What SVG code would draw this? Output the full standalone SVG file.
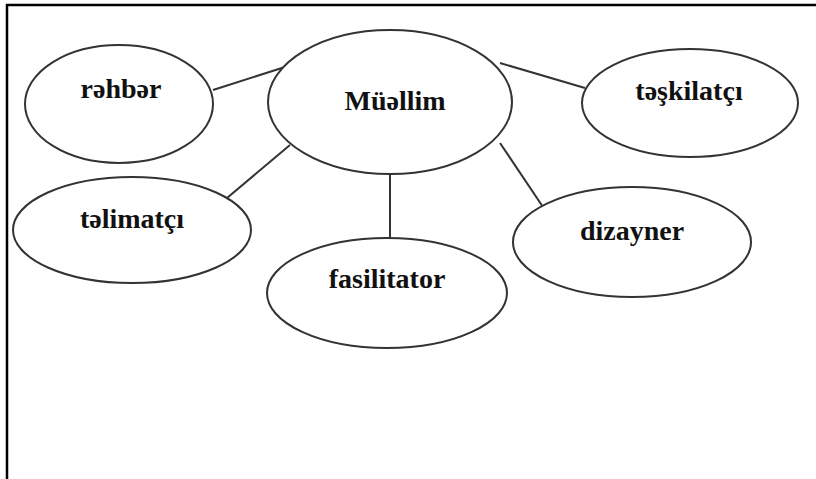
<svg xmlns="http://www.w3.org/2000/svg" width="816" height="479" viewBox="0 0 816 479">
<style>
.node ellipse{fill:#fff;stroke:#333;stroke-width:2}
.node text{font-family:"Liberation Serif","Times New Roman",serif;font-weight:bold;font-size:28px;fill:#111;text-anchor:middle}
.conn line{stroke:#333;stroke-width:2}
.frame{stroke:#000;stroke-width:2.5;fill:none}
</style>
<rect width="816" height="479" fill="#fff"/>
<path class="frame" d="M7 479 V5 H816"/>
<g class="conn">
<line x1="213" y1="90" x2="285" y2="67"/>
<line x1="500" y1="63" x2="585" y2="88"/>
<line x1="227" y1="198" x2="290" y2="145"/>
<line x1="390" y1="175" x2="390" y2="239"/>
<line x1="500" y1="143" x2="543" y2="207"/>
</g>
<g id="rehber" class="node"><ellipse cx="119" cy="104" rx="94" ry="59"/><text x="121" y="98">rəhbər</text></g>
<g id="muellim" class="node"><ellipse cx="390" cy="102" rx="122" ry="72"/><text x="395" y="110">Müəllim</text></g>
<g id="teskilatci" class="node"><ellipse cx="690" cy="103" rx="108" ry="54"/><text x="689" y="100">təşkilatçı</text></g>
<g id="telimatci" class="node"><ellipse cx="132" cy="230" rx="119" ry="53"/><text x="132" y="228">təlimatçı</text></g>
<g id="fasilitator" class="node"><ellipse cx="387" cy="293" rx="120" ry="55"/><text x="387" y="288">fasilitator</text></g>
<g id="dizayner" class="node"><ellipse cx="632" cy="242" rx="119" ry="55"/><text x="632" y="240">dizayner</text></g>
</svg>
